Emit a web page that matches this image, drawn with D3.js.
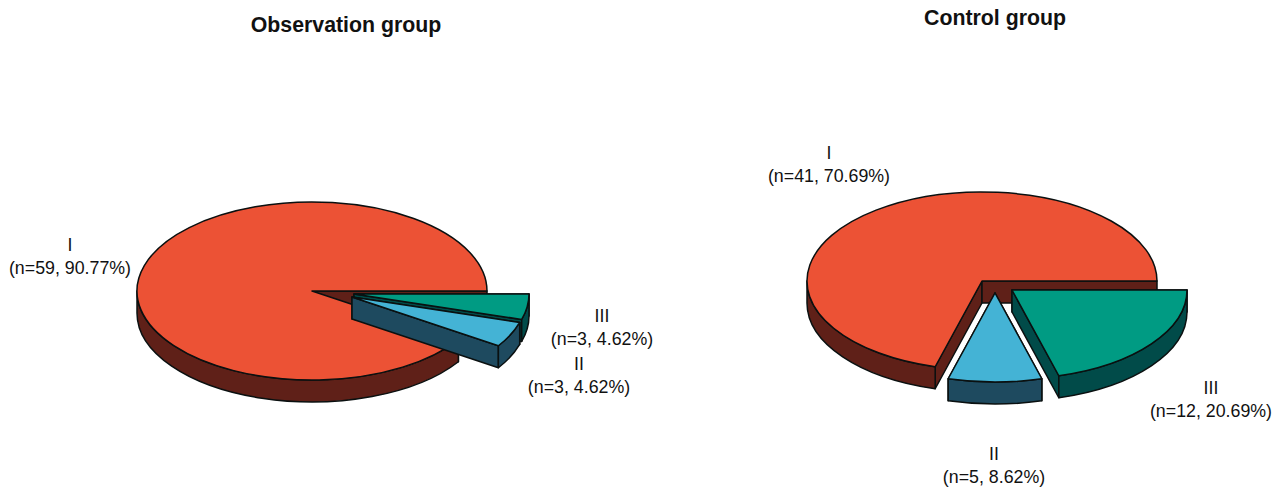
<!DOCTYPE html>
<html>
<head>
<meta charset="utf-8">
<title>Pie charts by group</title>
<script src="https://cdn.jsdelivr.net/npm/d3@7"></script>
<style>
  html, body { margin: 0; padding: 0; background: #fff; }
  svg { display: block; }
  text { font-family: "Liberation Sans", Arial, sans-serif; fill: #111; }
</style>
</head>
<body>
<svg id="chart" width="1283" height="490"></svg>
<script>
// slices run clockwise from 3 o'clock, so III comes first
var grades = ["III", "II", "I"];
var observationCounts = [3, 3, 59];
var observationPercents = ["4.62", "4.62", "90.77"];
var controlCounts = [12, 5, 41];
var controlPercents = ["20.69", "8.62", "70.69"];

var topColors = { I: "#ec5235", II: "#44b3d5", III: "#009b83" };
var sideColors = { I: "#5f2018", II: "#1e4a5f", III: "#014b49" };

var rx = 175, ry = 89, depth = 22;

var panels = [
  {
    title: "Observation group", titleX: 346, titleY: 32,
    counts: observationCounts, percents: observationPercents,
    cx: 312, cy: 291,
    offsets: { I: [0, 0], II: [40, 6], III: [42, 3] },
    labels: { I: [70, 251], II: [579, 370], III: [602, 322] }
  },
  {
    title: "Control group", titleX: 995, titleY: 25,
    counts: controlCounts, percents: controlPercents,
    cx: 982, cy: 281,
    offsets: { I: [0, 0], II: [13, 12], III: [30, 9] },
    labels: { I: [829, 159], II: [994, 460], III: [1211, 394] }
  }
];

var svg = d3.select("#chart");

var pie = d3.pie().sort(null)
  .startAngle(Math.PI / 2)
  .endAngle(Math.PI / 2 + 2 * Math.PI);

// d3.pie measures from 12 o'clock, the ellipse maths below from 3 o'clock
var toScreen = function(a) { return a - Math.PI / 2; };

var rimPoint = function(cx, cy, t) {
  return [cx + rx * Math.cos(t), cy + ry * Math.sin(t)];
};

var topPath = function(cx, cy, t0, t1) {
  var p0 = rimPoint(cx, cy, t0), p1 = rimPoint(cx, cy, t1);
  var large = t1 - t0 > Math.PI ? 1 : 0;
  return `M${cx},${cy}L${p0}A${rx},${ry} 0 ${large} 1 ${p1}Z`;
};

// flat cut face going down from the edge centre -> rim
var wallPath = function(cx, cy, t) {
  var p = rimPoint(cx, cy, t);
  return `M${cx},${cy}L${p}L${p[0]},${p[1] + depth}L${cx},${cy + depth}Z`;
};

// only the front half of the rim can be seen
var rimPath = function(cx, cy, t0, t1) {
  var a = Math.max(t0, 0), b = Math.min(t1, Math.PI);
  if (b <= a) { return null; }
  var p0 = rimPoint(cx, cy, a), p1 = rimPoint(cx, cy, b);
  return `M${p0}A${rx},${ry} 0 0 1 ${p1}L${p1[0]},${p1[1] + depth}` +
    `A${rx},${ry} 0 0 0 ${p0[0]},${p0[1] + depth}Z`;
};

panels.forEach(function(panel) {
  var g = svg.append("g");

  g.append("text")
    .attr("x", panel.titleX)
    .attr("y", panel.titleY)
    .attr("text-anchor", "middle")
    .attr("font-size", 21.3)
    .attr("font-weight", "bold")
    .text(panel.title);

  var slices = pie(panel.counts).map(function(d, i) {
    return { grade: grades[i], t0: toScreen(d.startAngle), t1: toScreen(d.endAngle), i: i };
  });

  // big slice first, then III, II lies on top
  var drawOrder = [slices[2], slices[0], slices[1]];

  drawOrder.forEach(function(s) {
    var off = panel.offsets[s.grade];
    var cx = panel.cx + off[0], cy = panel.cy + off[1];
    var sg = g.append("g")
      .attr("stroke", "#0a1010")
      .attr("stroke-width", 1.5)
      .attr("stroke-linejoin", "round");

    [wallPath(cx, cy, s.t0), wallPath(cx, cy, s.t1), rimPath(cx, cy, s.t0, s.t1)]
      .filter(Boolean)
      .forEach(function(d) {
        sg.append("path").attr("d", d).attr("fill", sideColors[s.grade]);
      });

    sg.append("path")
      .attr("d", topPath(cx, cy, s.t0, s.t1))
      .attr("fill", topColors[s.grade]);
  });

  slices.forEach(function(s) {
    var pos = panel.labels[s.grade];
    var label = g.append("text")
      .attr("text-anchor", "middle")
      .attr("font-size", 17.8);
    label.append("tspan").attr("x", pos[0]).attr("y", pos[1]).text(s.grade);
    label.append("tspan").attr("x", pos[0]).attr("y", pos[1] + 23)
      .text("(n=" + panel.counts[s.i] + ", " + panel.percents[s.i] + "%)");
  });
});
</script>
</body>
</html>
